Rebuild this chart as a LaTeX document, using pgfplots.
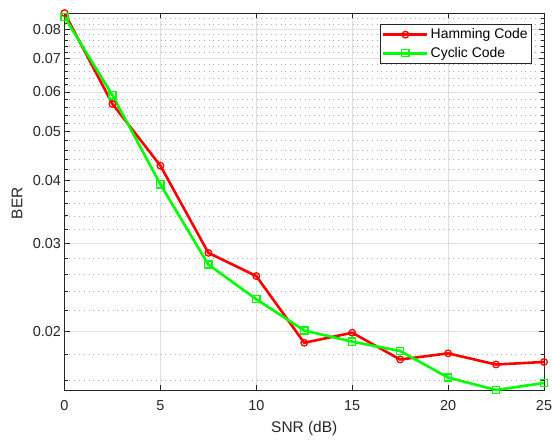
\documentclass[border=0pt]{standalone}
\usepackage{pgfplots}
\pgfplotsset{compat=1.18}
\usepackage{fontspec}
\setmainfont{Liberation Sans}
\definecolor{axgray}{gray}{0.15}
\definecolor{gridgray}{gray}{0.88}
\definecolor{mingray}{gray}{0.68}
\definecolor{hamred}{rgb}{1,0,0}
\definecolor{cycgreen}{rgb}{0,1,0}
\begin{document}
\begin{tikzpicture}
\begin{axis}[
  scale only axis,
  width=479.5bp, height=377bp,
  ymode=log,
  xmin=0, xmax=25, ymin=0.0153, ymax=0.0862,
  xtick={0,5,10,15,20,25},
  xticklabels={0,5,10,15,20,25},
  ytick={0.02,0.03,0.04,0.05,0.06,0.07,0.08},
  yticklabels={0.02,0.03,0.04,0.05,0.06,0.07,0.08},
  minor ytick={0.016,0.018,0.022,0.024,0.026,0.028,0.032,0.034,0.036,0.038,
               0.042,0.044,0.046,0.048,0.052,0.054,0.056,0.058,
               0.062,0.064,0.066,0.068,0.072,0.074,0.076,0.078,
               0.082,0.084,0.086},
  grid=both,
  major grid style={gridgray, line width=0.8bp},
  minor grid style={mingray, line width=0.7bp, dash pattern=on 0.8bp off 4bp},
  axis line style={axgray, line width=0.8bp},
  tick style={axgray, line width=0.8bp},
  tick align=inside,
  major tick length=5bp,
  minor tick length=3bp,
  ticklabel style={font=\fontsize{14.5}{16}\selectfont, text=axgray},
  xticklabel style={yshift=-7bp},
  xlabel={SNR (dB)},
  ylabel={BER},
  label style={font=\fontsize{15.5}{18}\selectfont, text=axgray},
  xlabel style={at={(axis description cs:0.5,0)}, anchor=base, yshift=-42bp},
  ylabel style={at={(axis description cs:-0.0991,0.495)}, anchor=center},
  legend style={
    at={(0.975,0.971)}, anchor=north east,
    font=\fontsize{14}{16}\selectfont,
    draw=axgray, line width=0.8bp, fill=white,
    inner xsep=2bp, inner ysep=2.5bp, row sep=3bp,
    cells={anchor=west},
  },
  legend image code/.code={
    \draw[mark repeat=2, mark phase=2]
      plot coordinates {(0bp,0bp) (22bp,0bp) (44bp,0bp)};
  },
]
% Hamming code BER
\addplot[hamred, line width=2.6bp, mark=o, mark size=3.3bp,
         mark options={line width=1.3bp}]
  coordinates {
    (0,0.0862) (2.5,0.0568) (5,0.0428) (7.5,0.0287) (10,0.0258)
    (12.5,0.0190) (15,0.0199) (17.5,0.0176) (20,0.0181)
    (22.5,0.0172) (25,0.0174)
  };
\addlegendentry{Hamming Code}
% Cyclic code BER
\addplot[cycgreen, line width=2.6bp, mark=square, mark size=3.6bp,
         mark options={line width=1.3bp}]
  coordinates {
    (0,0.0847) (2.5,0.0591) (5,0.0393) (7.5,0.0272) (10,0.0232)
    (12.5,0.0201) (15,0.0191) (17.5,0.0183) (20,0.0162)
    (22.5,0.0153) (25,0.0158)
  };
\addlegendentry{Cyclic Code}
\end{axis}
\pgfresetboundingbox
\path (-64.5bp,-52bp) rectangle (487.5bp,390bp);
\end{tikzpicture}
\end{document}
